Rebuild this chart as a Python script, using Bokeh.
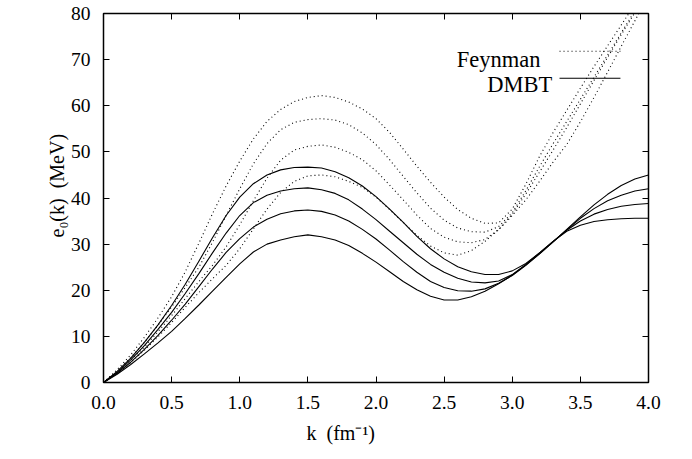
from bokeh.plotting import figure
from bokeh.models import Range1d, FixedTicker, PrintfTickFormatter, LinearAxis, Label, Title
from bokeh.embed import file_html
from bokeh.resources import INLINE

# ---------------- data ----------------
k = [0.0, 0.1, 0.2, 0.3, 0.4, 0.5, 0.6, 0.7, 0.8, 0.9,
     1.0, 1.1, 1.2, 1.3, 1.4, 1.5, 1.6, 1.7, 1.8, 1.9,
     2.0, 2.1, 2.2, 2.3, 2.4, 2.5, 2.6, 2.7, 2.8, 2.9,
     3.0, 3.1, 3.2, 3.3, 3.4, 3.5, 3.6, 3.7, 3.8, 3.9, 4.0]

feynman_1 = [0, 2.8, 6.0, 9.8, 14.0, 18.6, 24.0, 30.2, 36.6, 42.6,
             48.0, 52.8, 56.6, 59.2, 60.9, 61.8, 62.2, 61.8, 60.8, 59.3,
             57.2, 54.2, 50.6, 46.9, 43.4, 40.2, 37.5, 35.6, 34.5, 34.6,
             37.6, 43.0, 49.0, 54.2, 59.0, 63.8, 68.5, 73.0, 77.5, 82.0, 86.5]
feynman_2 = [0, 2.5, 5.4, 8.7, 12.4, 16.4, 20.6, 25.0, 30.4, 36.2,
             42.0, 47.4, 51.8, 54.8, 56.4, 57.0, 57.2, 56.9, 55.9, 54.1,
             51.6, 48.3, 44.7, 41.1, 37.8, 35.2, 33.5, 32.7, 32.6, 33.8,
             36.8, 41.6, 46.8, 51.8, 56.6, 61.4, 66.2, 71.0, 75.8, 80.6, 85.4]
feynman_3 = [0, 2.2, 4.8, 7.7, 11.0, 14.5, 18.2, 21.9, 25.4, 29.4,
             34.2, 39.4, 44.3, 48.2, 50.4, 51.2, 51.5, 51.0, 49.9, 48.3,
             45.9, 42.8, 39.6, 36.3, 33.4, 31.5, 30.5, 30.3, 31.0, 33.2,
             36.5, 40.9, 45.6, 50.4, 55.3, 60.4, 65.5, 70.5, 75.4, 80.2, 85.0]
feynman_4 = [0, 2.0, 4.3, 7.0, 9.9, 13.0, 16.3, 19.5, 22.5, 25.4,
             29.0, 33.3, 37.6, 41.2, 43.6, 44.8, 45.0, 44.6, 43.6, 42.3,
             40.2, 37.5, 34.7, 31.9, 29.6, 28.1, 27.6, 28.6, 30.6, 33.1,
             36.2, 39.6, 43.6, 47.8, 51.6, 56.5, 61.8, 67.3, 72.9, 78.4, 84.0]

dmbt_1 = [0, 2.4, 5.3, 8.7, 12.5, 16.7, 21.3, 26.3, 31.4, 36.2,
          40.2, 43.1, 45.0, 46.1, 46.6, 46.7, 46.5, 45.7, 44.4, 42.6,
          40.3, 37.6, 34.7, 31.7, 29.0, 26.8, 25.1, 24.0, 23.4, 23.4,
          24.2, 25.8, 28.1, 30.6, 32.8, 34.1, 34.9, 35.3, 35.5, 35.6, 35.6]
dmbt_2 = [0, 2.2, 4.9, 8.0, 11.5, 15.2, 19.3, 23.6, 28.1, 32.4,
          36.2, 39.0, 40.6, 41.5, 42.0, 42.2, 41.8, 41.0, 39.6, 37.6,
          35.3, 32.8, 30.3, 27.8, 25.6, 23.9, 22.6, 21.8, 21.6, 22.0,
          23.4, 25.6, 28.1, 30.6, 33.0, 35.0, 36.5, 37.5, 38.2, 38.6, 38.8]
dmbt_3 = [0, 2.0, 4.4, 7.2, 10.2, 13.5, 17.0, 20.8, 24.6, 28.2,
          31.2, 33.7, 35.4, 36.6, 37.2, 37.4, 37.1, 36.3, 35.0, 33.2,
          31.1, 28.7, 26.2, 23.9, 21.9, 20.6, 19.9, 19.8, 20.3, 21.5,
          23.2, 25.4, 27.9, 30.5, 33.1, 35.6, 37.7, 39.4, 40.6, 41.5, 42.0]
dmbt_4 = [0, 1.8, 3.9, 6.2, 8.6, 11.1, 13.9, 16.8, 19.8, 22.8,
          25.7, 28.3, 30.0, 30.9, 31.6, 32.0, 31.6, 30.9, 29.7, 28.0,
          26.1, 24.0, 21.9, 20.1, 18.7, 17.9, 17.9, 18.6, 19.8, 21.4,
          23.3, 25.5, 27.9, 30.5, 33.2, 35.9, 38.5, 40.8, 42.7, 44.1, 45.0]

x_ticks = [0.0, 0.5, 1.0, 1.5, 2.0, 2.5, 3.0, 3.5, 4.0]
y_ticks = [0, 10, 20, 30, 40, 50, 60, 70, 80]

x_title = "k \u00a0(fm\u207b\u00b9)"
y_title = "e\u2080(k) \u00a0(MeV)"

FONT = "Liberation Serif"

# ---------------- figure ----------------
p = figure(width=692, height=459, x_range=Range1d(0, 4), y_range=Range1d(0, 80),
           output_backend="svg", toolbar_location=None,
           min_border_left=103, min_border_right=44, min_border_top=13, min_border_bottom=77)
p.grid.visible = False
p.outline_line_color = "black"
p.outline_line_width = 1.5
p.background_fill_color = "white"
p.border_fill_color = "white"

for ax in (p.xaxis[0], p.yaxis[0]):
    ax.axis_line_color = None
    ax.major_tick_in = 6
    ax.major_tick_out = 0
    ax.major_tick_line_color = "black"
    ax.minor_tick_line_color = None
    ax.major_label_text_font = FONT
    ax.major_label_text_font_size = "19.5px"
    ax.major_label_text_color = "black"
    ax.major_label_standoff = 13
p.xaxis[0].ticker = FixedTicker(ticks=x_ticks)
p.xaxis[0].formatter = PrintfTickFormatter(format="%.1f")
p.yaxis[0].ticker = FixedTicker(ticks=y_ticks)
p.yaxis[0].formatter = PrintfTickFormatter(format="%d")

top = LinearAxis(ticker=FixedTicker(ticks=x_ticks), axis_line_color=None,
                 major_tick_in=6, major_tick_out=0, minor_tick_line_color=None,
                 major_label_text_color=None, major_label_text_font_size="1px",
                 major_label_standoff=0)
right = LinearAxis(ticker=FixedTicker(ticks=y_ticks), axis_line_color=None,
                   major_tick_in=6, major_tick_out=0, minor_tick_line_color=None,
                   major_label_text_color=None, major_label_text_font_size="1px",
                   major_label_standoff=0)
p.add_layout(top, "above")
p.add_layout(right, "right")

# ---------------- axis titles (side panels) ----------------
p.add_layout(Title(text=x_title, align="left", offset=203, standoff=16,
                   text_font=FONT, text_font_size="20px", text_font_style="normal",
                   text_color="black"), "below")
# empty spacer panel between the y tick labels and the y title
p.add_layout(Title(text="\u00a0", standoff=39, text_font=FONT, text_font_size="1px",
                   text_color=None), "left")
p.add_layout(Title(text=y_title, align="left", offset=145, standoff=0,
                   text_font=FONT, text_font_size="20px", text_font_style="normal",
                   text_color="black"), "left")

# ---------------- curves ----------------
for ys in (feynman_1, feynman_2, feynman_3, feynman_4):
    p.line(k, ys, line_color="black", line_width=1.1, line_dash="1 3")
for ys in (dmbt_1, dmbt_2, dmbt_3, dmbt_4):
    p.line(k, ys, line_color="black", line_width=1.1)

# ---------------- legend (gnuplot style: text then sample) ----------------
p.add_layout(Label(x=3.207, y=70.03, text="Feynman", text_align="right",
                   text_baseline="alphabetic", text_font=FONT, text_font_size="22.5px",
                   text_color="black"))
p.add_layout(Label(x=3.293, y=64.6, text="DMBT", text_align="right",
                   text_baseline="alphabetic", text_font=FONT, text_font_size="22.5px",
                   text_color="black"))
p.segment(x0=[3.347], y0=[71.83], x1=[3.794], y1=[71.83], line_color="black",
          line_width=1.1, line_dash="1 3")
p.segment(x0=[3.347], y0=[65.97], x1=[3.794], y1=[65.97], line_color="black",
          line_width=1.1)

open("out.html", "w").write(file_html(p, INLINE))
